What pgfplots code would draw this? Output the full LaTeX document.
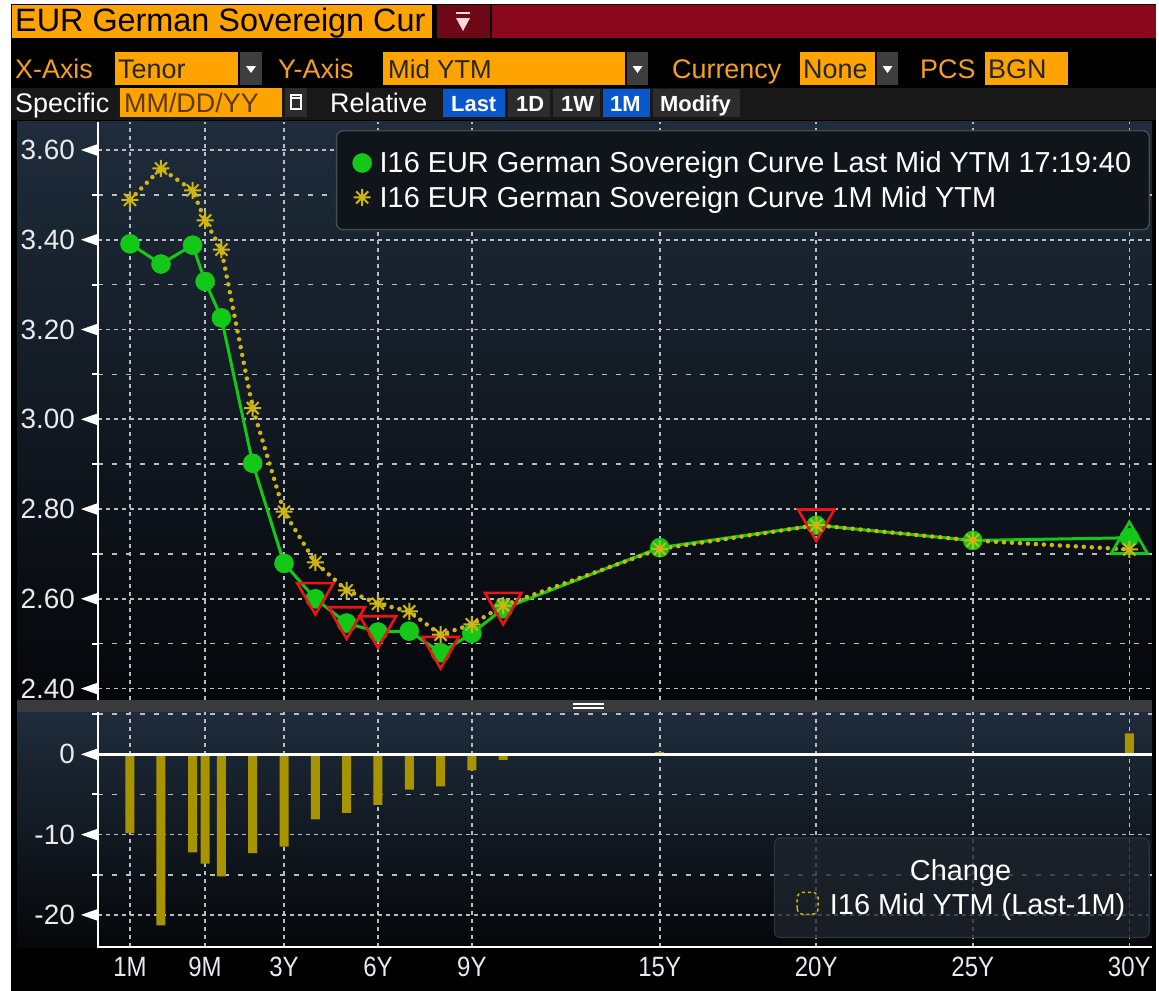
\documentclass[border=0pt]{standalone}
\usepackage{pgfplots}
\pgfplotsset{compat=1.18}
\usepackage{pgfplotstable}
\usepackage{fontspec}
\setmainfont{Liberation Sans}
\newfontfamily\cond[FakeStretch=0.86]{Liberation Sans}

\definecolor{bbgreen}{RGB}{20,200,24}
\definecolor{bbyellow}{RGB}{205,182,20}
\definecolor{bbbar}{RGB}{168,148,0}
\definecolor{bbred}{RGB}{232,22,22}
\definecolor{bborange}{RGB}{255,163,0}
\definecolor{bbtxtorange}{RGB}{246,160,32}
\definecolor{bbcrimson}{RGB}{138,8,28}
\definecolor{bbcrimsondk}{RGB}{110,8,22}
\definecolor{bbblue}{RGB}{10,86,205}
\definecolor{btngrey}{RGB}{44,44,44}
\definecolor{ddgrey}{RGB}{62,62,62}
\definecolor{rowgrey}{RGB}{24,24,24}
\definecolor{gridc}{RGB}{185,188,192}
\definecolor{paneltop}{RGB}{31,44,59}
\definecolor{panelbot}{RGB}{5,7,10}
\definecolor{sepgrey}{RGB}{58,58,60}
\definecolor{labelc}{RGB}{232,234,238}
\definecolor{legfill}{RGB}{16,21,27}
\definecolor{legbord}{RGB}{70,75,82}
\definecolor{legfilltwo}{RGB}{30,36,44}
\definecolor{legbordtwo}{RGB}{46,51,58}

% eight-armed asterisk mark
\pgfdeclareplotmark{star8}{%
  \pgfpathmoveto{\pgfqpoint{0pt}{\pgfplotmarksize}}%
  \pgfpathlineto{\pgfqpoint{0pt}{-\pgfplotmarksize}}%
  \pgfpathmoveto{\pgfqpoint{\pgfplotmarksize}{0pt}}%
  \pgfpathlineto{\pgfqpoint{-\pgfplotmarksize}{0pt}}%
  \pgfpathmoveto{\pgfqpoint{0.707\pgfplotmarksize}{0.707\pgfplotmarksize}}%
  \pgfpathlineto{\pgfqpoint{-0.707\pgfplotmarksize}{-0.707\pgfplotmarksize}}%
  \pgfpathmoveto{\pgfqpoint{0.707\pgfplotmarksize}{-0.707\pgfplotmarksize}}%
  \pgfpathlineto{\pgfqpoint{-0.707\pgfplotmarksize}{0.707\pgfplotmarksize}}%
  \pgfusepathqstroke}

\pgfplotstableread{
x      last   prev
-1.92  3.391  3.489
-0.93  3.346  3.559
0.08   3.388  3.510
0.48   3.307  3.443
1      3.226  3.378
2      2.902  3.025
3      2.679  2.794
4      2.600  2.681
5      2.546  2.619
6      2.526  2.589
7      2.528  2.572
8      2.480  2.520
9      2.523  2.543
10     2.578  2.585
15     2.714  2.711
20     2.764  2.764
25     2.730  2.730
30     2.736  2.710
}\curves

\pgfplotstableread{
x     chg
-1.92 -9.8
-0.93 -21.3
0.08  -12.2
0.48  -13.6
1     -15.2
2     -12.3
3     -11.5
4     -8.1
5     -7.3
6     -6.3
7     -4.4
8     -4.0
9     -2.0
10    -0.7
15    0.3
20    0
25    0
30    2.6
}\changes

\pgfplotstableread{
x  last
4  2.600
5  2.546
6  2.526
8  2.480
10 2.578
20 2.764
}\downs

\pgfplotstableread{
x  last
30 2.736
}\ups

\pgfplotsset{
  bbaxis/.style={
    scale only axis, width=1054bp,
    xmin=-2.942, xmax=30.725,
    axis line style={draw=none},
    clip=false,
    xtick={-1.92,0.476,3,6,9,15,20,25,30},
    major tick length=0pt, minor tick length=6bp,
    tick align=outside, ytick pos=left,
    xtick style={draw=none},
    ytick style={draw=white, line width=2bp},
    xmajorgrids, ymajorgrids, yminorgrids,
    major grid style={draw=gridc, line width=1.6bp, dash pattern=on 4bp off 4bp},
    minor grid style={draw=gridc, line width=1.6bp, dash pattern=on 5bp off 9bp},
    yticklabel style={font=\fontsize{28}{30}\selectfont, text=labelc, inner sep=0pt, anchor=east, xshift=-23bp},
    legend cell align=left,
  },
  marklegend/.style={legend image code/.code={\draw[##1, only marks] plot coordinates {(9bp,0bp)};}},
  boxlegend/.style={legend image code/.code={\draw[fill=none, draw=bbyellow, line width=1.5bp, dash pattern=on 3bp off 3bp] (0bp,-9bp) rectangle (21bp,13bp);}},
}

\begin{document}
\begin{tikzpicture}[x=1bp,y=1bp]
\useasboundingbox (0,0) rectangle (1159,-991);
\fill[white] (0,0) rectangle (1159,-991);
\fill[black] (11,-4) rectangle (1156,-991);

% ---- header row 1
\fill[bborange] (12,-5) rectangle (432,-38);
\node[anchor=base west, inner sep=0pt, font=\fontsize{32.5}{36}\selectfont, text=black] at (15,-31.5) {EUR German Sovereign Cur};
\fill[bbcrimsondk] (437,-5) rectangle (490,-38);
\fill[bbcrimson] (492,-5) rectangle (1156,-38);
\fill[white!85!red] (456,-18) -- (470,-18) -- (463,-31) -- cycle;
\draw[white!85!red, line width=2bp] (456,-13) -- (470,-13);

% ---- header row 2
\node[anchor=base west, inner sep=0pt, font=\fontsize{27}{30}\selectfont, text=bbtxtorange] at (15,-78) {X-Axis};
\fill[bborange] (115,-52) rectangle (238,-85);
\node[anchor=base west, inner sep=0pt, font=\fontsize{27}{30}\selectfont, text=black!85] at (118,-78) {Tenor};
\fill[ddgrey] (240,-52) rectangle (262,-85);
\fill[white!85] (246,-66) -- (256,-66) -- (251,-73) -- cycle;
\node[anchor=base west, inner sep=0pt, font=\fontsize{27}{30}\selectfont, text=bbtxtorange] at (278,-78) {Y-Axis};
\fill[bborange] (383,-52) rectangle (625,-85);
\node[anchor=base west, inner sep=0pt, font=\fontsize{26}{30}\selectfont, text=black!85] at (388,-78) {Mid YTM};
\fill[ddgrey] (627,-52) rectangle (648,-85);
\fill[white!85] (632.5,-66) -- (642.5,-66) -- (637.5,-73) -- cycle;
\node[anchor=base west, inner sep=0pt, font=\fontsize{27}{30}\selectfont, text=bbtxtorange] at (672,-78) {Currency};
\fill[bborange] (800,-52) rectangle (875,-85);
\node[anchor=base west, inner sep=0pt, font=\fontsize{27}{30}\selectfont, text=black!85] at (803,-78) {None};
\fill[ddgrey] (877,-52) rectangle (898,-85);
\fill[white!85] (882.5,-66) -- (892.5,-66) -- (887.5,-73) -- cycle;
\node[anchor=base west, inner sep=0pt, font=\fontsize{27}{30}\selectfont, text=bbtxtorange] at (920,-78) {PCS};
\fill[bborange] (985,-52) rectangle (1068,-85);
\node[anchor=base west, inner sep=0pt, font=\fontsize{27}{30}\selectfont, text=black!85] at (988,-78) {BGN};

% ---- header row 3
\fill[rowgrey] (11,-88) rectangle (1156,-120);
\node[anchor=base west, inner sep=0pt, font=\fontsize{27}{30}\selectfont, text=white] at (15,-112) {Specific};
\fill[bborange] (120,-88) rectangle (282,-117);
\node[anchor=base west, inner sep=0pt, font=\fontsize{27}{30}\selectfont, text=black!40!bborange!60!black] at (124,-112) {MM/DD/YY};
\fill[btngrey] (285,-88) rectangle (307,-117);
\draw[white!75, line width=1.3bp] (291,-95) rectangle (301,-109);
\draw[white!75, line width=2bp] (291,-98) -- (301,-98);
\node[anchor=base west, inner sep=0pt, font=\fontsize{27}{30}\selectfont, text=white] at (330,-112) {Relative};
\fill[bbblue] (443,-89) rectangle (505,-117);
\node[anchor=base west, inner sep=0pt, font=\bfseries\fontsize{22}{26}\selectfont, text=white] at (451,-111) {Last};
\fill[btngrey] (508,-89) rectangle (550,-117);
\node[anchor=base west, inner sep=0pt, font=\bfseries\fontsize{22}{26}\selectfont, text=white] at (516,-111) {1D};
\fill[btngrey] (553,-89) rectangle (600,-117);
\node[anchor=base west, inner sep=0pt, font=\bfseries\fontsize{22}{26}\selectfont, text=white] at (561,-111) {1W};
\fill[bbblue] (603,-89) rectangle (650,-117);
\node[anchor=base west, inner sep=0pt, font=\bfseries\fontsize{22}{26}\selectfont, text=white] at (610,-111) {1M};
\fill[btngrey] (653,-89) rectangle (740,-117);
\node[anchor=base west, inner sep=0pt, font=\bfseries\fontsize{22}{26}\selectfont, text=white] at (660,-111) {Modify};

% ---- panel backgrounds
\shade[top color=paneltop, bottom color=panelbot] (17,-121) rectangle (1152,-700);
\fill[sepgrey] (17,-700) rectangle (1152,-712);
\draw[white!70, line width=1.2bp] (573,-704) -- (604,-704);
\draw[white!70, line width=1.2bp] (573,-708) -- (604,-708);
\shade[top color=paneltop, bottom color=panelbot] (17,-712) rectangle (1152,-947);

% ================= upper axis
\begin{axis}[bbaxis,
  at={(98bp,-700bp)}, anchor=south west, height=578bp,
  ymin=2.3745, ymax=3.6624,
  ytick={2.4,2.6,2.8,3.0,3.2,3.4,3.6},
  yticklabels={2.40,2.60,2.80,3.00,3.20,3.40,3.60},
  minor ytick={2.5,2.7,2.9,3.1,3.3,3.5},
  xticklabels={},
  legend style={at={(0.998,0.986)}, anchor=north east,
    draw=legbord, fill=legfill, rounded corners=6bp, line width=1.4bp,
    font=\fontsize{29}{34}\selectfont, text=white,
    inner xsep=16bp, inner ysep=19bp, row sep=8bp, column sep=6bp,
    nodes={inner sep=2bp}},
]
\addplot[bbgreen, line width=3bp, mark=*, mark size=9.5bp,
  mark options={fill=bbgreen, draw=bbgreen, line width=0.5bp}, marklegend]
  table[x=x, y=last]{\curves};
\addlegendentry{I16 EUR German Sovereign Curve Last Mid YTM 17:19:40}
\addplot[forget plot, only marks, mark=triangle, mark size=21bp,
  mark options={draw=bbred, line width=2.6bp, yshift=5.25bp, rotate=180}]
  table[x=x, y=last]{\downs};
\addplot[forget plot, only marks, mark=triangle, mark size=21bp,
  mark options={draw=bbgreen, line width=2.8bp, yshift=-5.25bp}]
  table[x=x, y=last]{\ups};
\addplot[bbyellow, line width=4.5bp, line cap=round, dash pattern=on 0bp off 8bp,
  mark=star8, mark size=8.5bp,
  mark options={solid, draw=bbyellow, line width=2bp, line cap=butt}, marklegend]
  table[x=x, y=prev]{\curves};
\addlegendentry{I16 EUR German Sovereign Curve 1M Mid YTM}
\draw[white, line width=2bp] (rel axis cs:0,0) -- (rel axis cs:0,1);
\pgfplotsinvokeforeach{2.4,2.6,2.8,3.0,3.2,3.4,3.6}{
  \fill[white] (axis cs:-2.942,#1) ++(0bp,6bp) -- ++(0bp,-12bp) -- ++(-17bp,6bp) -- cycle;
}
\end{axis}

% ================= lower axis
\begin{axis}[bbaxis,
  at={(98bp,-947bp)}, anchor=south west, height=235bp,
  ymin=-24, ymax=5.27,
  ytick={-20,-10,0},
  yticklabels={-20,-10,0},
  minor ytick={-15,-5,5},
  xticklabels={1M,9M,3Y,6Y,9Y,15Y,20Y,25Y,30Y},
  xticklabel style={font=\cond\fontsize{28}{30}\selectfont, text=labelc, inner sep=0pt, anchor=north, yshift=-10bp},
  legend style={at={(0.998,0.038)}, anchor=south east,
    draw=legbordtwo, fill=legfilltwo, fill opacity=0.78, text opacity=1,
    rounded corners=6bp, line width=1.2bp,
    font=\fontsize{29}{34}\selectfont, text=white,
    inner xsep=22bp, inner ysep=19bp, row sep=8bp, column sep=9bp,
    nodes={inner sep=2bp}},
]
\addlegendimage{empty legend}
\addlegendentry{\hspace*{80bp}Change}
\addplot[ybar, bar width=9bp, fill=bbbar, draw=none, boxlegend]
  table[x=x, y=chg]{\changes};
\addlegendentry{I16 Mid YTM (Last-1M)}
\draw[white, line width=2.5bp] (axis cs:-2.942,0) -- (axis cs:30.725,0);
\draw[white, line width=2.2bp] (rel axis cs:0,1) -- (rel axis cs:0,0) -- (rel axis cs:1,0);
\pgfplotsinvokeforeach{-20,-10,0}{
  \fill[white] (axis cs:-2.942,#1) ++(0bp,6bp) -- ++(0bp,-12bp) -- ++(-17bp,6bp) -- cycle;
}
\end{axis}
\end{tikzpicture}
\end{document}
